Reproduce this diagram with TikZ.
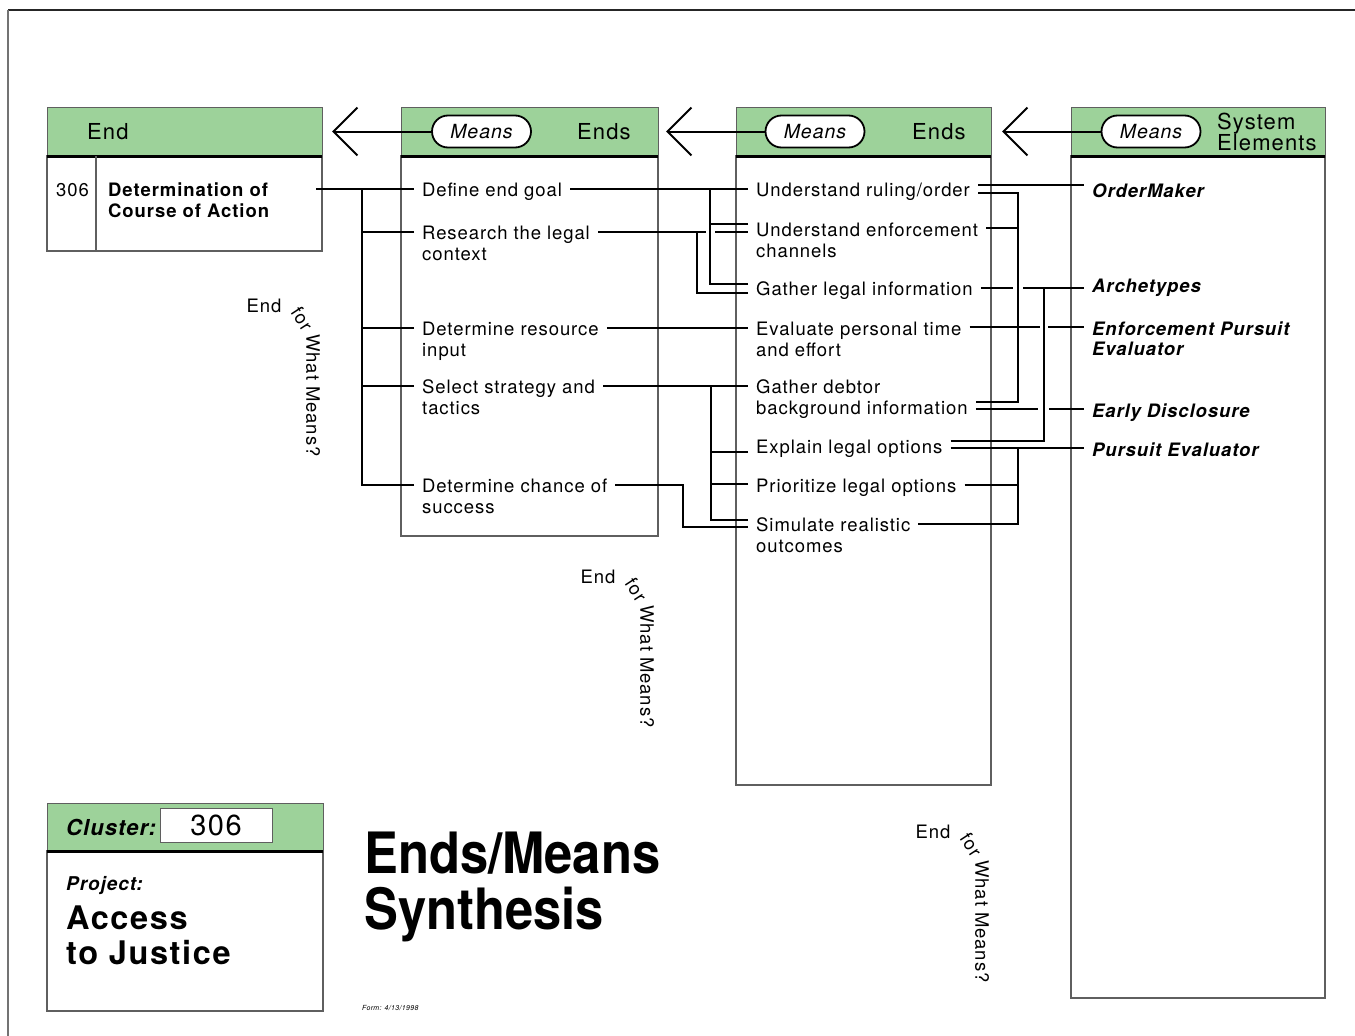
\documentclass[tikz,border=0pt]{standalone}
\usepackage{fontspec}
\setmainfont{TeX Gyre Heros}[LetterSpace=5]
\newfontfamily\titlefont{TeX Gyre Heros}[FakeStretch=0.89]
\usetikzlibrary{arrows.meta, positioning}
\definecolor{headgreen}{RGB}{157,210,154}
\definecolor{boxgray}{RGB}{95,95,95}

\begin{document}
\begin{tikzpicture}[
  x=1pt, y=-1pt,
  headbox/.style={draw=boxgray, line width=1pt, fill=headgreen, anchor=north west,
                  minimum height=49pt, inner sep=0pt, outer sep=0pt},
  bodybox/.style={draw=boxgray, line width=1.2pt, anchor=north west,
                  inner sep=0pt, outer sep=0pt},
  headrule/.style={line width=3pt},
  pill/.style={draw, line width=1.8pt, fill=white, rounded corners=16pt,
               minimum width=99pt, minimum height=32pt, inner sep=0pt,
               font=\fontsize{19.5}{21}\selectfont\itshape},
  headtxt/.style={anchor=west, inner sep=0pt, align=left,
                  font=\fontsize{22}{21}\selectfont},
  item/.style={anchor=base west, align=left, inner xsep=8pt, inner ysep=2pt,
               font=\fontsize{18.5}{21}\selectfont},
  elem/.style={item, font=\fontsize{18.5}{20}\selectfont\bfseries\itshape},
  link/.style={line width=2.3pt},
  meansarrow/.style={line width=2pt, -{Straight Barb[length=24pt, width=48pt]}},
  ann/.style={inner sep=0pt, font=\fontsize{18.5}{21}\selectfont}
]
\useasboundingbox (0,0) rectangle (1355,1036);
\draw[line width=1.5pt, black!85] (1355,10) -- (8,10);
\draw[line width=1.5pt, black!55] (8,10) -- (8,1036);

% column heads and bodies
\node[headbox, minimum width=275pt] (endhead) at (47,107) {};
\node[bodybox, minimum width=275pt, minimum height=95pt] (endbody) at (endhead.south west) {};
\node[headbox, minimum width=257pt] (head2) at (401,107) {};
\node[bodybox, minimum width=257pt, minimum height=380pt] (body2) at (head2.south west) {};
\node[headbox, minimum width=255pt] (head3) at (736,107) {};
\node[bodybox, minimum width=255pt, minimum height=629pt] (body3) at (head3.south west) {};
\node[headbox, minimum width=254pt] (head4) at (1071,107) {};
\node[bodybox, minimum width=254pt, minimum height=842pt] (body4) at (head4.south west) {};
\draw[headrule] (endhead.south west) -- (endhead.south east);
\draw[headrule] (head2.south west) -- (head2.south east);
\draw[headrule] (head3.south west) -- (head3.south east);
\draw[headrule] (head4.south west) -- (head4.south east);
\draw[boxgray, line width=1.2pt] ([xshift=49pt]endbody.north west) -- ([xshift=49pt]endbody.south west);

\node[headtxt] (endlbl) at ([xshift=40pt]endhead.west) {End};
\node[pill] (means2) at ([xshift=80.5pt]head2.west) {Means};
\node[headtxt] (ends2) at ([xshift=176pt]head2.west) {Ends};
\node[pill] (means3) at ([xshift=79pt]head3.west) {Means};
\node[headtxt] (ends3) at ([xshift=176pt]head3.west) {Ends};
\node[pill] (means4) at ([xshift=80pt]head4.west) {Means};
\node[headtxt] (syselem) at ([xshift=146pt]head4.west) {System\\Elements};

\draw[meansarrow] (means2.west) -- ([xshift=10pt]endhead.east);
\draw[meansarrow] (means3.west) -- ([xshift=8pt]head2.east);
\draw[meansarrow] (means4.west) -- ([xshift=11pt]head3.east);

% end (two-line nodes sit on their last baseline)
\node[item] (num306) at (48,196) {306};
\node[item, font=\fontsize{18.5}{21}\selectfont\bfseries] (detcoa) at (100,217) {Determination of\\Course of Action};

% means / ends
\node[item] (define)   at (414,196) {Define end goal};
\node[item] (research) at (414,260) {Research the legal\\context};
\node[item] (resource) at (414,356) {Determine resource\\input};
\node[item] (strategy) at (414,414) {Select strategy and\\tactics};
\node[item] (chance)   at (414,513) {Determine chance of\\success};

\node[item] (ruling)    at (748,196) {Understand ruling/order};
\node[item] (enforce)   at (748,257) {Understand enforcement\\channels};
\node[item] (legalinfo) at (748,295) {Gather legal information};
\node[item] (timeeff)   at (748,356) {Evaluate personal time\\and effort};
\node[item] (debtor)    at (748,414) {Gather debtor\\background information};
\node[item] (explain)   at (748,453) {Explain legal options};
\node[item] (prior)     at (748,492) {Prioritize legal options};
\node[item] (simulate)  at (748,552) {Simulate realistic\\outcomes};

% system elements
\node[elem] (ordermaker)  at (1084,197) {OrderMaker};
\node[elem] (archetypes)  at (1084,292) {Archetypes};
\node[elem] (enfpursuit)  at (1084,355) {Enforcement Pursuit\\Evaluator};
\node[elem] (earlydisc)   at (1084,417) {Early Disclosure};
\node[elem] (pursuiteval) at (1084,456) {Pursuit Evaluator};

% end <- means
\coordinate (endport) at (316,189);
\draw[link] (endport) -- ([yshift=7pt]define.base west);
\draw[link] ([yshift=28pt]chance.base west) -| (362,189);
\draw[link] ([yshift=28pt]research.base west) -- ++(-52,0);
\draw[link] ([yshift=28pt]resource.base west) -- ++(-52,0);
\draw[link] ([yshift=28pt]strategy.base west) -- ++(-52,0);

% col 2 <- col 3
\draw[link] ([yshift=7pt]define.base east) -- ([yshift=7pt]ruling.base west);
\draw[link] ([yshift=11pt]legalinfo.base west) -| (710,189);
\draw[link] ([yshift=33pt]enforce.base west) -- ++(-38,0);
\draw[link] ([yshift=28pt]research.base east) -- (706,232) ++(9,0) -- ([yshift=25pt]enforce.base west);
\draw[link] ([yshift=2pt]legalinfo.base west) -| (697,232);
\draw[link] ([yshift=28pt]resource.base east) -- ([yshift=28pt]timeeff.base west);
\draw[link] ([yshift=28pt]strategy.base east) -- ([yshift=28pt]debtor.base west);
\draw[link] ([yshift=32pt]simulate.base west) -| (711,386);
\draw[link] ([yshift=1pt]explain.base west) -- ++(-37,0);
\draw[link] ([yshift=8pt]prior.base west) -- ++(-37,0);
\draw[link] ([yshift=28pt]chance.base east) -| (683,527) -- ([yshift=25pt]simulate.base west);

% col 3 <- system elements
\draw[link] ([yshift=11pt]ruling.base east) -- ([yshift=12pt]ordermaker.base west);
\draw[link] ([yshift=3pt]ruling.base east) -| (1018,402) -- ([yshift=12pt]debtor.base east);
\draw[link] ([yshift=29pt]enforce.base east) -- (1018,228);
\draw[link] ([yshift=7pt]legalinfo.base east) -- (1013,288) ++(10,0) -- ([yshift=4pt]archetypes.base west);
\draw[link] ([yshift=12pt]explain.base east) -| (1044,288);
\draw[link] ([yshift=29pt]timeeff.base east) -- (1040,327) ++(8,0) -- ([yshift=28pt]enfpursuit.base west);
\draw[link] ([yshift=5pt]debtor.base east) -- (1038,409) ++(11,0) -- ([yshift=8pt]earlydisc.base west);
\draw[link] ([yshift=5pt]explain.base east) -- ([yshift=8pt]pursuiteval.base west);
\draw[link] ([yshift=28pt]simulate.base east) -| (1018,448);
\draw[link] ([yshift=7pt]prior.base east) -- (1018,485);

% end for what means?
\node[ann] (endq1) at (264,306) {End};
\node[ann, rotate=-57] (forq1) at ([shift={(38,13)}]endq1.center) {for};
\node[ann, rotate=-90, anchor=west] (whatq1) at ([shift={(49,28)}]endq1.center) {What Means?};
\node[ann] (endq2) at (598,577) {End};
\node[ann, rotate=-57] (forq2) at ([shift={(38,13)}]endq2.center) {for};
\node[ann, rotate=-90, anchor=west] (whatq2) at ([shift={(49,28)}]endq2.center) {What Means?};
\node[ann] (endq3) at (933,832) {End};
\node[ann, rotate=-57] (forq3) at ([shift={(38,13)}]endq3.center) {for};
\node[ann, rotate=-90, anchor=west] (whatq3) at ([shift={(49,28)}]endq3.center) {What Means?};

% cluster box
\node[headbox, minimum width=276pt, minimum height=48pt] (clhead) at (47,803) {};
\node[bodybox, minimum width=276pt, minimum height=160pt] (clbody) at (clhead.south west) {};
\draw[headrule] (clhead.south west) -- (clhead.south east);
\node[anchor=west, inner sep=0pt, font=\fontsize{22}{24}\selectfont\bfseries\itshape] (cllbl) at ([xshift=19pt]clhead.west) {Cluster:};
\node[draw=boxgray, fill=white, line width=1pt, minimum width=112pt, minimum height=34pt,
      inner sep=0pt, font=\fontsize{29}{30}\selectfont] (clnum) at (216,825) {306};
\node[anchor=base west, inner sep=0pt, font=\fontsize{19}{20}\selectfont\bfseries\itshape] (projlbl) at (66,890) {Project:};
\node[anchor=base west, inner sep=0pt, align=left, font=\fontsize{32.5}{35}\selectfont\bfseries] (projname) at (66,964) {Access\\to Justice};

% title
\node[anchor=base west, inner sep=0pt, align=left, font=\titlefont\fontsize{57}{56}\selectfont\bfseries] (title) at (364,929) {Ends/Means\\Synthesis};
\node[anchor=base west, inner sep=0pt, font=\fontsize{7}{8}\selectfont\itshape] (formdate) at (362,1010) {Form: 4/13/1998};
\end{tikzpicture}
\end{document}
